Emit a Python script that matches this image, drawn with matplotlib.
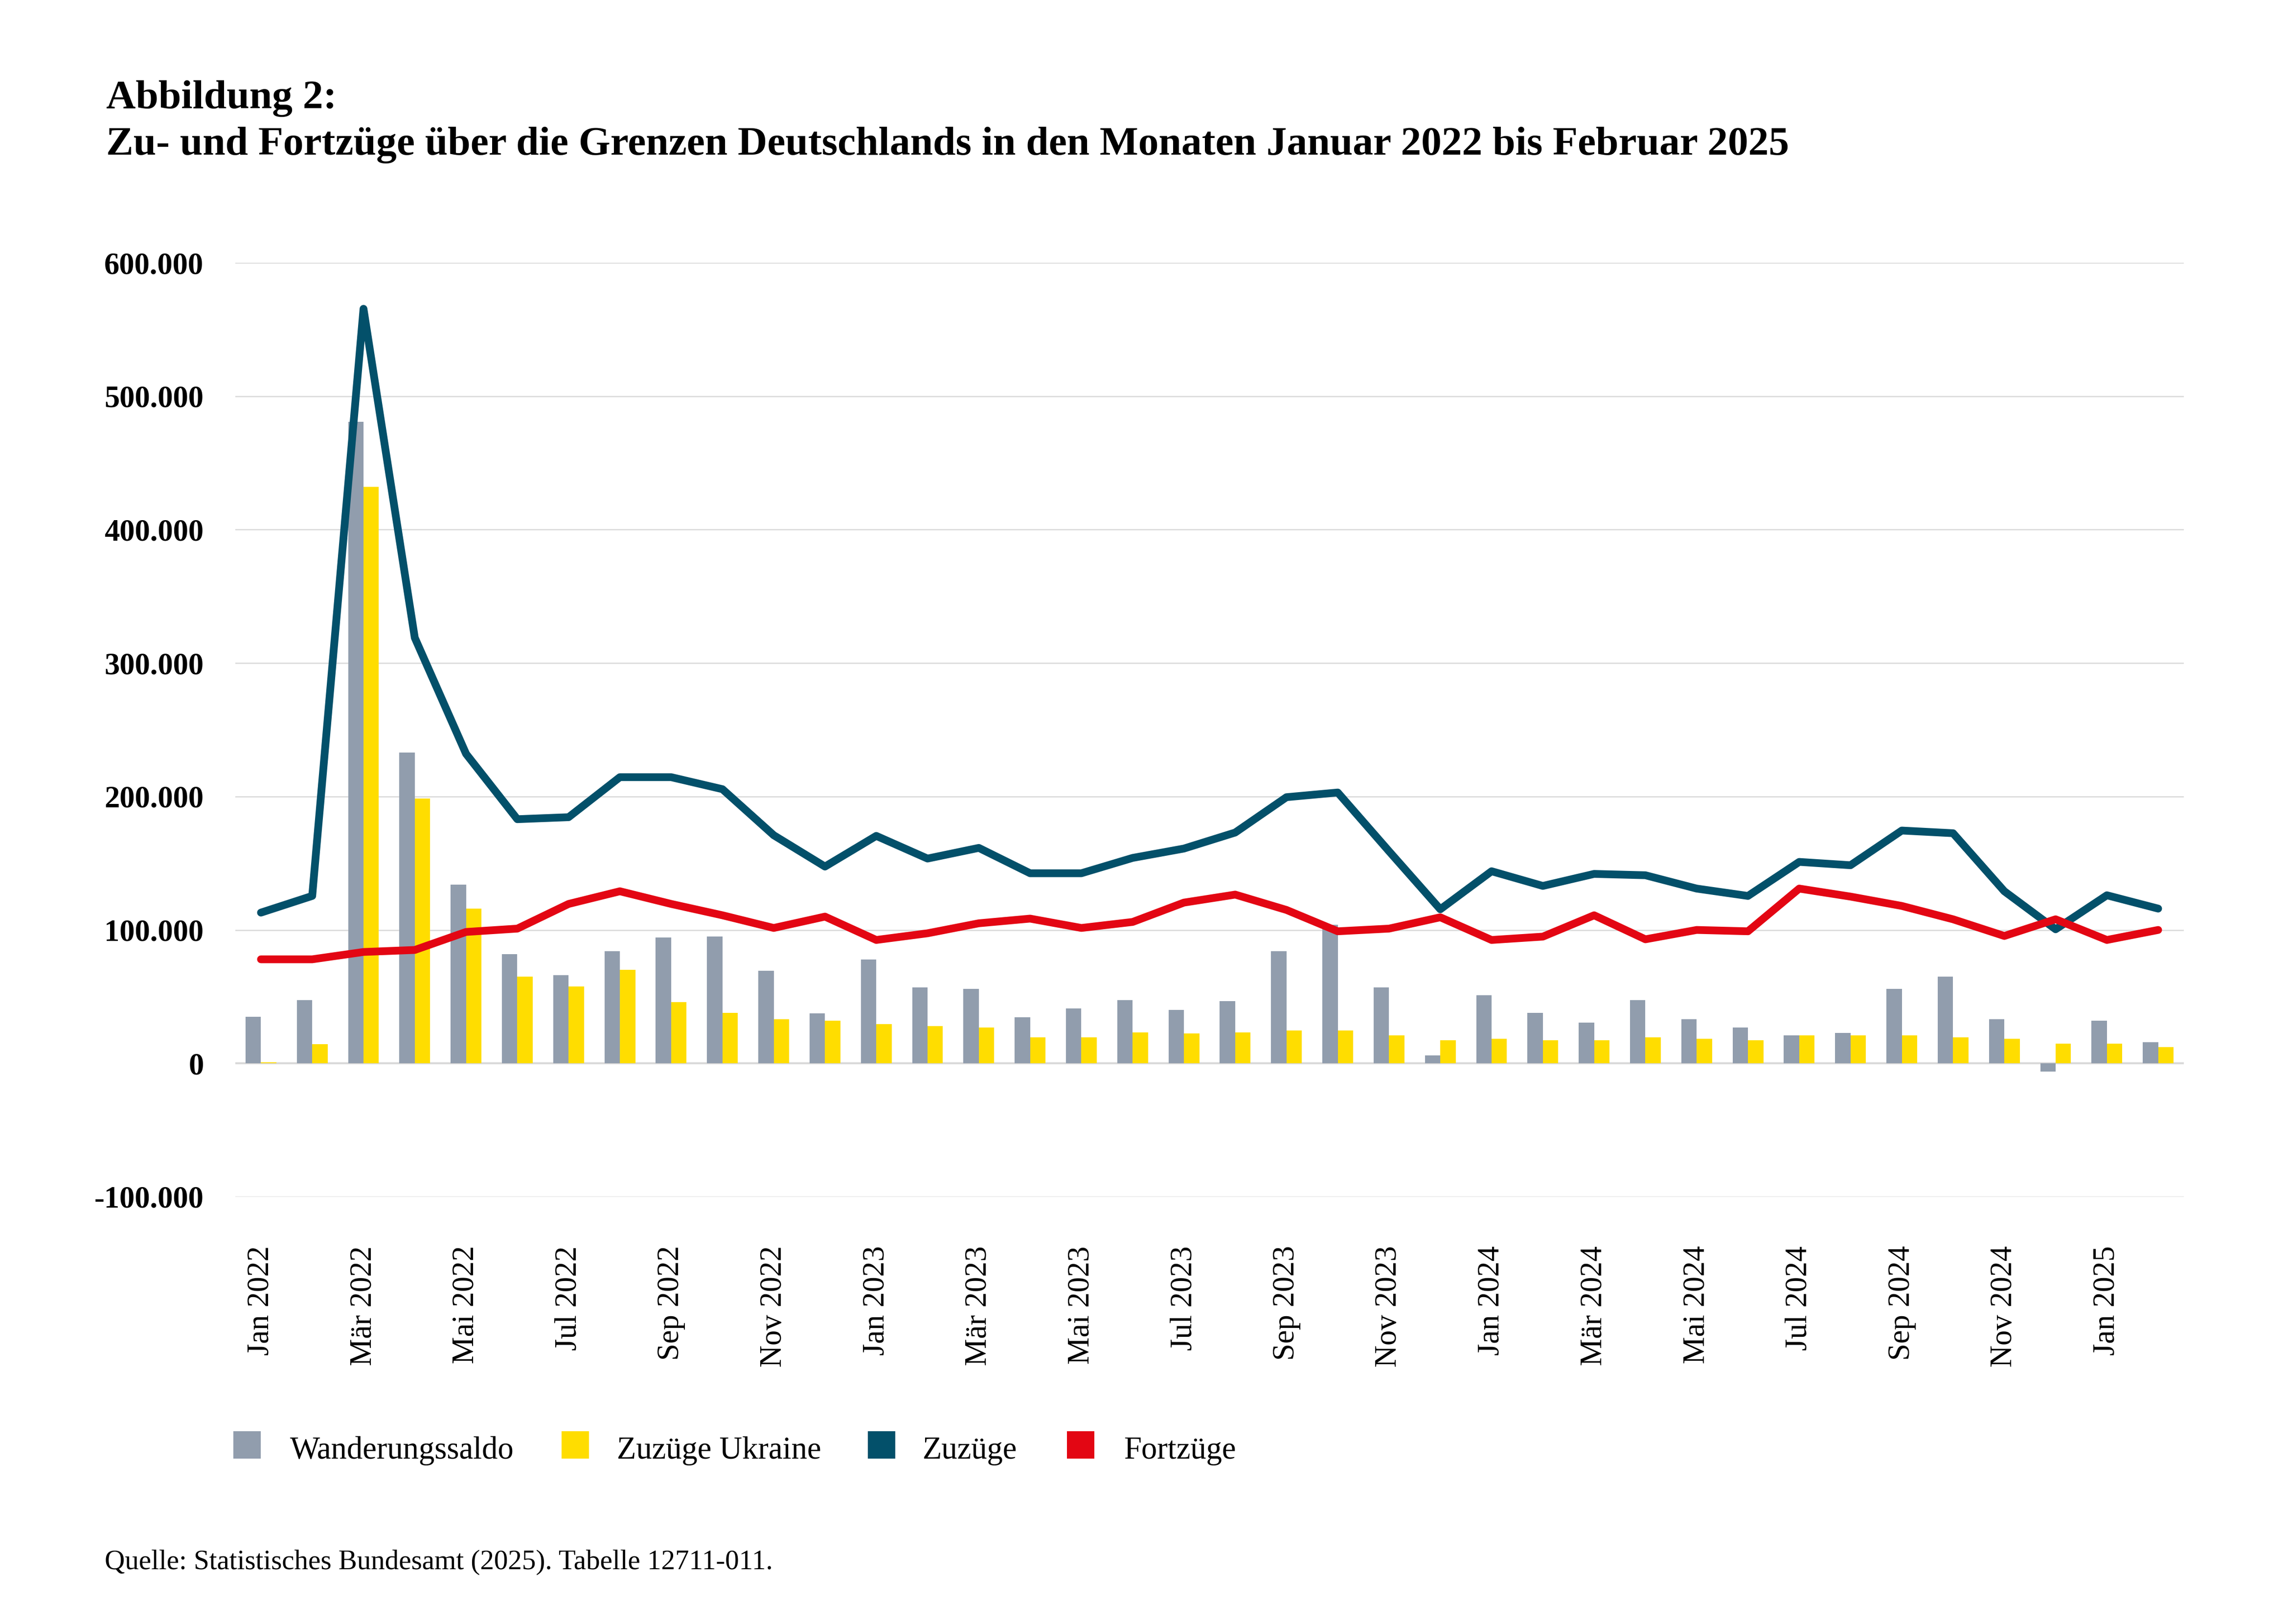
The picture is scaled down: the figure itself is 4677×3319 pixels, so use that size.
import matplotlib
matplotlib.use("Agg")
import matplotlib.pyplot as plt
from matplotlib.patches import Rectangle
import numpy as np

# ---------------- data ----------------
monate = ["Jan", "Feb", "Mär", "Apr", "Mai", "Jun", "Jul", "Aug", "Sep", "Okt", "Nov", "Dez"]
jahre = [2022, 2023, 2024, 2025]
kategorien = [f"{m} {j}" for j in jahre for m in monate][:38]   # Jan 2022 .. Feb 2025

wanderungssaldo = [35000, 47500, 481000, 233000, 134000, 82000, 66000, 84000, 94500, 95000, 69500, 37500,
                   78000, 57000, 56000, 34500, 41000, 47500, 40000, 46500, 84000, 104000, 57000, 6000,
                   51000, 38000, 30500, 47500, 33000, 27000, 21000, 23000, 56000, 65000, 33000, -6000,
                   32000, 16000]
zuzuege_ukraine = [1000, 14500, 432000, 198500, 116000, 65000, 57500, 70000, 46000, 38000, 33000, 32000,
                   29500, 28000, 27000, 19700, 19700, 23300, 22300, 23300, 24500, 24500, 21000, 17300,
                   18300, 17300, 17300, 19700, 18300, 17300, 21000, 21000, 21000, 19700, 18300, 14700,
                   14700, 12300]
zuzuege = [113000, 125500, 565500, 319000, 232000, 183000, 184500, 214500, 214500, 205500, 171000, 147500,
           170500, 153500, 161500, 142500, 142500, 154000, 161000, 173000, 199500, 203000, 159000, 115500,
           144000, 133000, 142000, 141000, 131000, 125500, 151000, 148500, 174500, 172500, 129000, 100500,
           126000, 116000]
fortzuege = [78000, 78000, 83500, 85000, 98500, 101000, 119500, 129000, 119500, 111000, 101500, 110000,
             92500, 97500, 105000, 108500, 101500, 106000, 120500, 126500, 115000, 99000, 101000, 109500,
             92500, 95000, 111000, 93000, 100000, 99000, 131000, 125000, 118000, 108000, 95500, 108000,
             92500, 100000]

serien_namen = ["Wanderungssaldo", "Zuzüge Ukraine", "Zuzüge", "Fortzüge"]
y_ticks = [-100000, 0, 100000, 200000, 300000, 400000, 500000, 600000]
y_tick_labels = ["-100.000", "0", "100.000", "200.000", "300.000", "400.000", "500.000", "600.000"]

titel_1 = "Abbildung 2:"
titel_2 = "Zu- und Fortzüge über die Grenzen Deutschlands in den Monaten Januar 2022 bis Februar 2025"
quelle = "Quelle: Statistisches Bundesamt (2025). Tabelle 12711-011."

# ---------------- style ----------------
C_GRAU = "#919DAD"
C_GELB = "#FFDD00"
C_BLAU = "#03506A"
C_ROT = "#E30613"
C_GRID = "#D9D9D9"
farben = [C_GRAU, C_GELB, C_BLAU, C_ROT]

plt.rcParams["font.family"] = ["Liberation Serif", "DejaVu Serif"]

W, H = 4677, 3319
DPI = 300
fig = plt.figure(figsize=(W / DPI, H / DPI), dpi=DPI)
fig.patch.set_facecolor("white")

ax = fig.add_axes([481 / W, 1 - 2446 / H, (4464 - 481) / W, (2446 - 537) / H])
ax.set_facecolor("white")

x = np.arange(len(kategorien))
bw = 0.30
ax.bar(x - bw / 2, wanderungssaldo, width=bw, color=C_GRAU, zorder=2, linewidth=0)
ax.bar(x + bw / 2, zuzuege_ukraine, width=bw, color=C_GELB, zorder=2, linewidth=0)
ax.plot(x, zuzuege, color=C_BLAU, lw=3.8, zorder=4, solid_capstyle="round", solid_joinstyle="round")
ax.plot(x, fortzuege, color=C_ROT, lw=3.8, zorder=4, solid_capstyle="round", solid_joinstyle="round")

ax.set_xlim(-0.5, len(kategorien) - 0.5)
ax.set_ylim(-100000, 600000)

ax.set_yticks(y_ticks)
ax.set_yticklabels(y_tick_labels, fontsize=15, fontweight="bold")
ax.set_xticks(x[::2])
ax.set_xticklabels(kategorien[::2], rotation=90, fontsize=15, va="top", ha="center")
ax.tick_params(axis="y", length=0, pad=15.5)
ax.tick_params(axis="x", length=0, pad=24)

for s in ax.spines.values():
    s.set_visible(False)
ax.yaxis.grid(True, color=C_GRID, lw=0.6, zorder=0)
ax.axhline(0, color=C_GRID, lw=1.0, zorder=1)
ax.set_axisbelow(True)

# ---------------- title & source ----------------
t1 = fig.text(217 / W, 1 - 221 / H, titel_1, fontsize=19, fontweight="bold", va="baseline", ha="left")
t2 = fig.text(217 / W, 1 - 316 / H, titel_2, fontsize=19, fontweight="bold", va="baseline", ha="left")
tq = fig.text(214 / W, 1 - 3207 / H, quelle, fontsize=13.5, va="baseline", ha="left")

renderer = fig.canvas.get_renderer()


def fit(t, target_px):
    w = t.get_window_extent(renderer).width
    t.set_fontsize(t.get_fontsize() * target_px / w)


fit(t2, 3440)
t1.set_fontsize(t2.get_fontsize())
fit(tq, 1366)

# ---------------- legend ----------------
sq_x = [477, 1148, 1774, 2181]
tx_x = [593, 1261, 1886, 2297]
for name, col, sx, tx in zip(serien_namen, farben, sq_x, tx_x):
    fig.patches.append(Rectangle((sx / W, 1 - 2981 / H), 56 / W, 56 / H,
                                 transform=fig.transFigure, facecolor=col, edgecolor="none"))
    fig.text(tx / W, 1 - 2981 / H, name, fontsize=15.5, va="baseline", ha="left")

fig.savefig("out.png", dpi=DPI, facecolor="white")
